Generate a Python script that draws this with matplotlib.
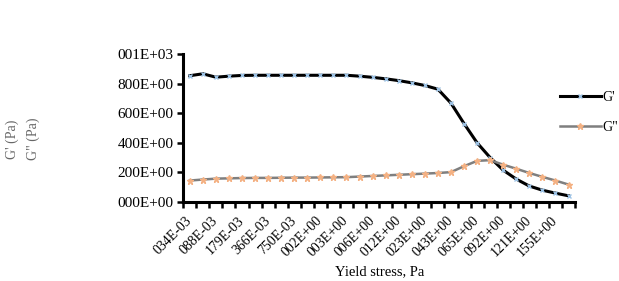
import matplotlib
matplotlib.use('Agg')
import matplotlib.pyplot as plt
import matplotlib.transforms as mtransforms
import numpy as np

plt.rcParams['font.family'] = ['Liberation Serif', 'DejaVu Serif']

tick_labels = ['034E-03', '088E-03', '179E-03', '366E-03', '750E-03',
               '002E+00', '003E+00', '006E+00', '012E+00', '023E+00',
               '043E+00', '065E+00', '092E+00', '121E+00', '155E+00']

g1 = [853, 866, 843, 850, 855, 856, 856, 856, 856, 856, 856, 856, 856, 850,
      842, 832, 820, 805, 787, 762, 668, 530, 400, 300, 215, 155, 108, 80,
      60, 42]
g2 = [145, 152, 158, 160, 162, 163, 163, 164, 165, 165, 166, 167, 168, 172,
      176, 180, 184, 188, 192, 196, 202, 242, 278, 283, 252, 225, 196, 170,
      145, 118]

y_ticks = [0, 200, 400, 600, 800, 1000]
y_labels = ['000E+00', '200E+00', '400E+00', '600E+00', '800E+00', '001E+03']

x = np.arange(len(g1))

fig = plt.figure(figsize=(6.19, 2.81), dpi=100)
ax = fig.add_axes([0.296, 0.281, 0.633, 0.527])

l1, = ax.plot(x, g1, color='black', lw=2.2, marker='x', ms=3.5,
              mec='#9dc3e6', mew=1.0, label="G'")
l2, = ax.plot(x, g2, color='#7f7f7f', lw=1.8, marker='*', ms=5,
              mec='#f4b183', mfc='#f4b183', label='G"')

ax.set_xlim(-0.5, len(g1) - 0.5)
ax.set_ylim(0, 1000)
ax.set_yticks(y_ticks)
ax.set_yticklabels(y_labels, fontsize=11)
ax.set_xticks(x[::2])
ax.set_xticklabels(tick_labels, rotation=45, ha='right', va='center',
                   rotation_mode='anchor', fontsize=10)
shift = mtransforms.ScaledTranslation(5 / 72, 0, fig.dpi_scale_trans)
for lab in ax.get_xticklabels():
    lab.set_transform(lab.get_transform() + shift)
ax.set_xticks(np.arange(-0.5, len(g1)), minor=True)
ax.tick_params(axis='x', which='major', length=0, pad=12)
ax.tick_params(axis='x', which='minor', length=4, width=1.8, direction='out')
ax.tick_params(axis='y', length=4, width=1.8, direction='out', pad=3)

for s in ['top', 'right']:
    ax.spines[s].set_visible(False)
for s in ['left', 'bottom']:
    ax.spines[s].set_linewidth(2.2)

fig.text(0.614, 0.032, 'Yield stress, Pa', ha='center', va='center',
         fontsize=10.5)

fig.text(0.019, 0.505, "G' (Pa)", rotation=90, va='center', ha='center',
         fontsize=10, color='#666666')
fig.text(0.053, 0.505, 'G" (Pa)', rotation=90, va='center', ha='center',
         fontsize=10, color='#666666')

fig.legend(handles=[l1, l2], loc='center left',
           bbox_to_anchor=(0.895, 0.60), frameon=False, fontsize=10,
           handlelength=3.0, handletextpad=0.1, labelspacing=1.2,
           borderaxespad=0)

fig.savefig('out.png', dpi=100)
